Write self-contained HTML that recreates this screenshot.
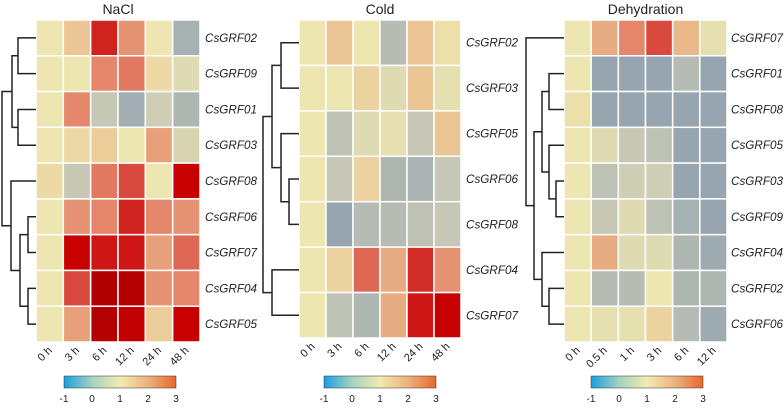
<!DOCTYPE html>
<html><head><meta charset="utf-8"><style>
body{margin:0;background:#fff;width:784px;height:406px;overflow:hidden}
svg{font-family:"Liberation Sans",sans-serif}
</style></head><body>
<svg id="s" width="784" height="406">
<defs><linearGradient id="cb" x1="0" x2="1" y1="0" y2="0">
<stop offset="0" stop-color="#1a9ee3"/><stop offset="0.25" stop-color="#a3d3c0"/><stop offset="0.5" stop-color="#f2ebb0"/><stop offset="0.75" stop-color="#ebb27e"/><stop offset="1" stop-color="#e8682c"/></linearGradient></defs>
</svg>
<script>
const naclTimes=["0 h","3 h","6 h","12 h","24 h","48 h"];
const naclGenes=["CsGRF02","CsGRF09","CsGRF01","CsGRF03","CsGRF08","CsGRF06","CsGRF07","CsGRF04","CsGRF05"];
const naclValues=[[1,1.5,2.7,1.9,1,0.1],[1,1,2.0,2.1,1.2,0.8],[1,2.0,0.5,0.05,0.6,0.2],[1,1.2,1.4,1,1.8,0.7],[1.2,0.5,2.1,2.4,1,3.0],[1,1.9,2.0,2.7,2.0,1.9],[1,3.0,2.8,2.8,1.8,2.2],[1,2.4,3.5,3.4,1.9,2.0],[1,1.8,3.4,3.1,1.4,3.0]];
const coldTimes=["0 h","3 h","6 h","12 h","24 h","48 h"];
const coldGenes=["CsGRF02","CsGRF03","CsGRF05","CsGRF06","CsGRF08","CsGRF04","CsGRF07"];
const coldValues=[[1,1.5,1,0.3,1.5,1.1],[1,1,1.3,0.8,1.5,0.9],[1,0.4,0.8,0.9,0.5,1.5],[1,0.5,1.3,0.2,0.15,0.5],[1,-0.1,0.3,0.3,0.4,0.5],[1,1.3,2.2,1.7,2.6,1.9],[1,0.4,0.2,1.7,2.8,3.0]];
const dehyTimes=["0 h","0.5 h","1 h","3 h","6 h","12 h"];
const dehyGenes=["CsGRF07","CsGRF01","CsGRF08","CsGRF05","CsGRF03","CsGRF09","CsGRF04","CsGRF02","CsGRF06"];
const dehyValues=[[1,1.7,2.0,2.4,1.6,0.9],[1,-0.1,-0.1,-0.1,0.3,-0.1],[1.1,-0.1,-0.1,-0.1,-0.1,-0.1],[1,0.8,0.5,0.4,-0.1,-0.1],[1,0.4,0.6,0.6,-0.1,-0.1],[1,0.5,0.8,0.4,0.1,-0.1],[1,1.7,0.8,0.8,0.2,0.0],[1,0.3,0.3,1,0.2,0.2],[1,0.9,0.9,1.3,0.3,0.0]];
const cbTicks=["-1","0","1","2","3"];
// dendrogram trees: [left,right,mergeX] ; leaves are row indices
const naclTree=[[[[0,1,18],[2,3,18],12],[4,[[5,6,28],[7,8,28],20],11],2]];
const coldTree=[[[[0,1,21],[2,[3,4,29],21],12],[5,6,12],3]];
const dehyTree=[[0,[[[1,2,29],[3,[4,5,36],29],22],[6,[7,8,29],22],14],6]];

const S=document.getElementById('s');const NS='http://www.w3.org/2000/svg';
function el(t,a,p){const e=document.createElementNS(NS,t);for(const k in a)e.setAttribute(k,a[k]);(p||S).appendChild(e);return e;}
const stops=[[-0.2,[142,159,174]],[0.5,[198,200,181]],[1,[238,230,176]],[1.5,[235,197,147]],[2,[228,135,106]],[2.5,[214,58,50]],[3,[200,0,0]],[3.5,[176,0,0]]];
function color(v){if(v<=stops[0][0])return 'rgb('+stops[0][1]+')';for(let i=1;i<stops.length;i++){if(v<=stops[i][0]){const a=stops[i-1],b=stops[i],t=(v-a[0])/(b[0]-a[0]);return 'rgb('+a[1].map((c,j)=>Math.round(c+(b[1][j]-c)*t))+')';}}return 'rgb('+stops[stops.length-1][1]+')';}
function panel(name,title,times,genes,vals,tree,x0,x1,y0,y1,dx,cbx,lo){
 const g=el('g',{});
 const cw=(x1-x0)/times.length,rh=(y1-y0)/genes.length;
 const t=el('text',{x:(x0+x1)/2,y:14,'text-anchor':'middle','font-size':14,fill:'#222'},g);t.textContent=title;
 
 vals.forEach((row,r)=>row.forEach((v,c)=>{const e=el('rect',{x:x0+c*cw,y:y0+r*rh,width:cw,height:rh,fill:color(v),stroke:'#fff','stroke-width':1.5},g);
  }));
 genes.forEach((n,r)=>{const e=el('text',{x:x1+lo,y:y0+(r+0.5)*rh+4,'font-size':12,'font-style':'italic',fill:'#222',textLength:52,lengthAdjust:'spacingAndGlyphs'},g);e.textContent=n;
  });
 times.forEach((n,c)=>{const cx=x0+(c+0.5)*cw+3,cy=y1+9;const e=el('text',{x:cx,y:cy,'font-size':11,fill:'#222','text-anchor':'end',transform:'rotate(-45 '+cx+' '+cy+')'},g);e.textContent=n;
  });
 function draw(n){if(typeof n==='number')return{x:x0,y:y0+(n+0.5)*rh};const a=draw(n[0]),b=draw(n[1]),mx=dx+n[2];
  const p=el('path',{d:`M${a.x},${a.y}H${mx}V${b.y}H${b.x}`,fill:'none',stroke:'#222','stroke-width':1.5},g);
  return{x:mx,y:(a.y+b.y)/2};}
 draw(tree[0]);
 const cb=el('rect',{x:cbx,y:376,width:112,height:12,fill:'url(#cb)',stroke:'#333','stroke-width':0.5},g);
 
 cbTicks.forEach((tk,i)=>{const e=el('text',{x:cbx+i*28,y:402,'font-size':10,'text-anchor':'middle',fill:'#222'},g);e.textContent=tk;
  });
}
panel('nacl','NaCl',naclTimes,naclGenes,naclValues,naclTree,36,200,20,342,0,64,5);
panel('cold','Cold',coldTimes,coldGenes,coldValues,coldTree,299,461,20,338,260,324,5);
panel('dehydration','Dehydration',dehyTimes,dehyGenes,dehyValues,dehyTree,564,727,20,342,520,591,4);
</script>
</body></html>
